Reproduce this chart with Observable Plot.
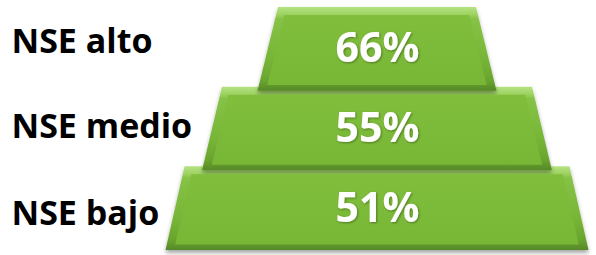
<!DOCTYPE html>
<html>
<head>
<meta charset="utf-8">
<script src="https://cdn.jsdelivr.net/npm/d3@7"></script>
<script src="https://cdn.jsdelivr.net/npm/@observablehq/plot@0.6"></script>
<style>
  html, body { margin: 0; padding: 0; background: #ffffff; }
  #chart svg { display: block; }
</style>
</head>
<body>
<div id="chart"></div>
<script>
// ---- data ----
const categories = ["NSE alto", "NSE medio", "NSE bajo"];
const values = [66, 55, 51];
const valueLabels = ["66%", "55%", "51%"];

// ---- decorative pyramid layout (relative units) ----
const tierTopHalf = [0.468, 0.733, 0.910];
const tierBottomHalf = [0.565, 0.827, 1.0];
const tierHeight = 1.05;
const labelLevel = [0.433, 1.5, 2.59];
const bevelX = 0.04, bevelTop = 0.1, bevelBottom = 0.07;

// outer and inner shapes; bottom tier first so upper tiers overlap it
const outer = [], inner = [];
for (let i = categories.length - 1; i >= 0; i--) {
  const top = i, bot = i + tierHeight;
  outer.push({tier: i, level: top, x1: -tierTopHalf[i], x2: tierTopHalf[i]});
  outer.push({tier: i, level: bot, x1: -tierBottomHalf[i], x2: tierBottomHalf[i]});
  const slope = (tierBottomHalf[i] - tierTopHalf[i]) / tierHeight;
  const it = top + bevelTop, ib = bot - bevelBottom;
  const hwT = tierTopHalf[i] + slope * bevelTop - bevelX;
  const hwB = tierBottomHalf[i] - slope * bevelBottom - bevelX;
  inner.push({tier: i, level: it, x1: -hwT, x2: hwT});
  inner.push({tier: i, level: ib, x1: -hwB, x2: hwB});
}
const labelRows = categories.map((c, i) => ({cat: c, level: labelLevel[i]}));
const valueRows = values.map((v, i) => ({v, text: valueLabels[i], level: i + tierHeight / 2}));

const chart = Plot.plot({
  width: 596,
  height: 255,
  margin: 0,
  x: {domain: [-1, 1], range: [165.5, 588.5], axis: null},
  y: {domain: [0, 3.05], range: [7, 250], axis: null},
  marks: [
    Plot.areaX(outer, {y: "level", x1: "x1", x2: "x2", z: "tier", fill: "#7aba38", className: "outer-tier"}),
    Plot.areaX(inner, {y: "level", x1: "x1", x2: "x2", z: "tier", fill: "#7cbb39", className: "inner-tier"}),
    Plot.text(valueRows, {y: "level", x: () => 0, text: "text", fill: "white", fontSize: 41, fontWeight: "bold", fontFamily: "Open Sans", className: "pct"}),
    Plot.text(labelRows, {y: "level", text: "cat", frameAnchor: "left", textAnchor: "start", dx: 11, fill: "black", fontSize: 34, fontWeight: "bold", fontFamily: "Open Sans"})
  ]
});
document.getElementById("chart").appendChild(chart);

// decorative defs: bevel gradient + shadows
const svg = d3.select(chart);
const defs = svg.insert("defs", ":first-child");
const g = defs.append("linearGradient").attr("id", "bevelGrad").attr("x1", 0).attr("y1", 0).attr("x2", 0).attr("y2", 1);
[["0%", "#b6e283"], ["9%", "#9dd260"], ["14%", "#86c246"], ["60%", "#78b638"], ["88%", "#6aa42e"], ["100%", "#56882a"]]
  .forEach(([o, c]) => g.append("stop").attr("offset", o).attr("stop-color", c));
const gi = defs.append("linearGradient").attr("id", "innerGrad").attr("x1", 0).attr("y1", 0).attr("x2", 0).attr("y2", 1);
[["0%", "#80be3c"], ["100%", "#78b636"]]
  .forEach(([o, c]) => gi.append("stop").attr("offset", o).attr("stop-color", c));
const f = defs.append("filter").attr("id", "dropShadow").attr("x", "-10%").attr("y", "-10%").attr("width", "120%").attr("height", "130%");
f.append("feDropShadow").attr("dx", 0).attr("dy", 3).attr("stdDeviation", 2).attr("flood-color", "#000").attr("flood-opacity", 0.35);
const ft = defs.append("filter").attr("id", "textShadow");
ft.append("feDropShadow").attr("dx", 1).attr("dy", 1).attr("stdDeviation", 1).attr("flood-color", "#000").attr("flood-opacity", 0.35);

svg.selectAll(".outer-tier path").attr("fill", "url(#bevelGrad)").attr("filter", "url(#dropShadow)");
svg.selectAll(".inner-tier path").attr("fill", "url(#innerGrad)");
svg.selectAll(".pct").attr("filter", "url(#textShadow)");
</script>
</body>
</html>
